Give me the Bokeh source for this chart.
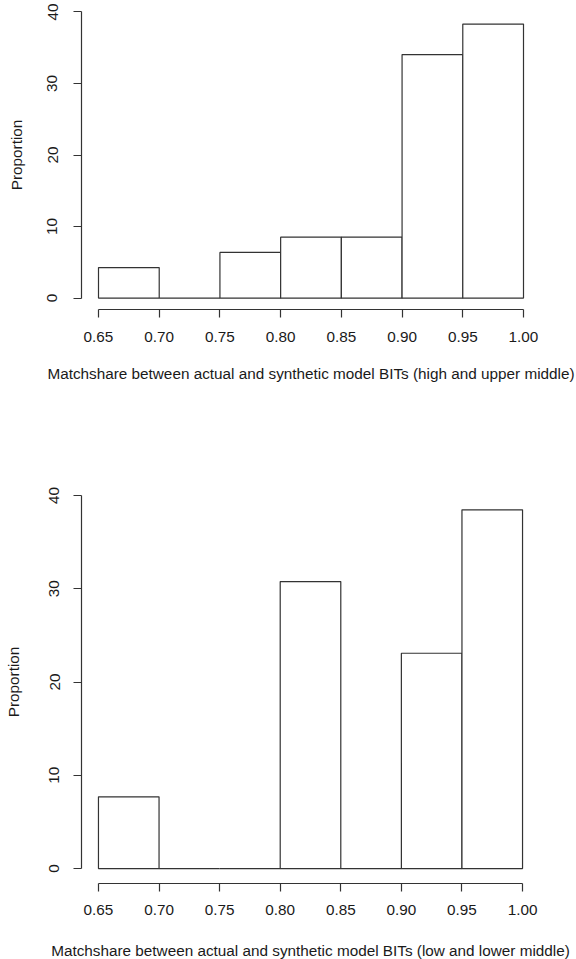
from bokeh.plotting import figure
from bokeh.layouts import column
from bokeh.models import Range1d, FixedTicker, NumeralTickFormatter
from bokeh.embed import file_html
from bokeh.resources import INLINE

# ---- data ----
bin_edges = [0.65, 0.70, 0.75, 0.80, 0.85, 0.90, 0.95, 1.00]
high_upper_middle = [4.26, 0.0, 6.38, 8.51, 8.51, 34.04, 38.30]
low_lower_middle = [7.69, 0.0, 0.0, 30.77, 0.0, 23.08, 38.46]
x_ticks = [0.65, 0.70, 0.75, 0.80, 0.85, 0.90, 0.95, 1.00]
y_ticks = [0, 10, 20, 30, 40]
xlabel_top = "Matchshare between actual and synthetic model BITs (high and upper middle)"
xlabel_bottom = "Matchshare between actual and synthetic model BITs (low and lower middle)"
ylabel = "Proportion"

FONT = "Liberation Sans"
INK = "#1a1a1a"
LINE = "#333333"
FS = "15.3px"


def make_hist(values, xlabel, left, frame_w, right, top, frame_h, bottom,
              x_lab_so, x_axlab_so, y_lab_so, y_axlab_so):
    xpad = 0.04 * (bin_edges[-1] - bin_edges[0])
    ypad = 0.04 * (y_ticks[-1] - y_ticks[0])
    p = figure(
        frame_width=frame_w, frame_height=frame_h,
        min_border_left=left, min_border_right=right,
        min_border_top=top, min_border_bottom=bottom,
        x_range=Range1d(bin_edges[0] - xpad, bin_edges[-1] + xpad),
        y_range=Range1d(y_ticks[0] - ypad, y_ticks[-1] + ypad),
        output_backend="svg", toolbar_location=None,
        background_fill_color="white", border_fill_color="white",
    )
    p.outline_line_color = None
    p.xgrid.visible = False
    p.ygrid.visible = False

    p.quad(left=bin_edges[:-1], right=bin_edges[1:], bottom=0, top=values,
           fill_color="white", line_color=LINE, line_width=1.2)

    xa = p.xaxis[0]
    xa.ticker = FixedTicker(ticks=x_ticks)
    xa.formatter = NumeralTickFormatter(format="0.00")
    xa.bounds = (x_ticks[0], x_ticks[-1])
    xa.axis_label = xlabel

    ya = p.yaxis[0]
    ya.ticker = FixedTicker(ticks=y_ticks)
    ya.bounds = (y_ticks[0], y_ticks[-1])
    ya.axis_label = ylabel
    ya.major_label_orientation = "vertical"

    for ax in (xa, ya):
        ax.axis_line_color = LINE
        ax.axis_line_width = 1.2
        ax.major_tick_line_color = LINE
        ax.major_tick_line_width = 1.2
        ax.major_tick_in = 0
        ax.major_tick_out = 8
        ax.minor_tick_line_color = None
        ax.major_label_text_font = FONT
        ax.major_label_text_font_size = FS
        ax.major_label_text_color = INK
        ax.axis_label_text_font = FONT
        ax.axis_label_text_font_size = FS
        ax.axis_label_text_font_style = "normal"
        ax.axis_label_text_color = INK
    xa.major_label_standoff = x_lab_so
    xa.axis_label_standoff = x_axlab_so
    ya.major_label_standoff = y_lab_so
    ya.axis_label_standoff = y_axlab_so
    return p


p1 = make_hist(high_upper_middle, xlabel_top, 81, 459, 36, 0, 309, 111,
               14, 20, 16, 20)
p2 = make_hist(low_lower_middle, xlabel_bottom, 78, 458, 40, 60, 403, 76,
               13, 24, 14, 25)

layout = column(p1, p2, spacing=0)
open("out.html", "w").write(file_html(layout, INLINE))
